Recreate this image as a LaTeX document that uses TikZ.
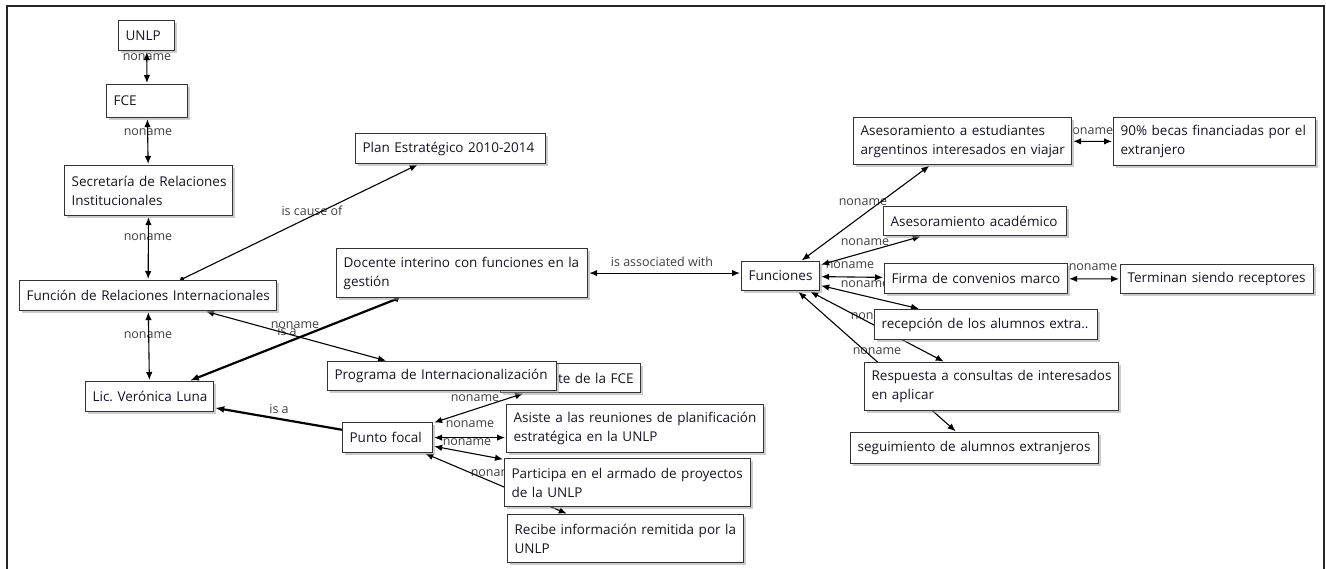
\documentclass[tikz,border=0pt]{standalone}
\usepackage{fontspec}
\setmainfont{Open Sans}
\usetikzlibrary{arrows.meta,shadows}
\pgfdeclarelayer{lab}
\pgfdeclarelayer{edges}
\pgfsetlayers{lab,edges,main}
\definecolor{boxline}{HTML}{333333}
\definecolor{txt}{HTML}{151525}
\definecolor{labgray}{HTML}{3E3E3E}
\tikzset{
  cbox/.style 2 args={draw=boxline, line width=1.2pt, fill=white, anchor=north west,
    inner xsep=7pt, inner ysep=0pt, text width=#1pt, minimum height=#2pt, align=left,
    font=\fontsize{13.5}{19}\selectfont, text=txt,
    drop shadow={shadow xshift=2.5pt, shadow yshift=-2.5pt, fill=black!40}},
  lab/.style={text=labgray, font=\fontsize{12.5}{14}\selectfont, inner sep=0pt},
  e/.style={draw=black, line width=1.1pt, {Latex[length=8pt,width=6.5pt]}-{Latex[length=8pt,width=6.5pt]}, shorten <=1pt, shorten >=1pt},
  edot/.style={draw=black, line width=1.1pt, {Circle[length=4.5pt]}-{Latex[length=8pt,width=6.5pt]}, shorten >=1pt},
  edotthick/.style={draw=black, line width=2.2pt, {Circle[length=5pt]}-{Latex[length=9pt,width=7pt]}, shorten >=1pt},
  ethick/.style={draw=black, line width=2.2pt, -{Latex[length=9pt,width=7pt]}, shorten >=1pt},
}
\begin{document}
\begin{tikzpicture}[x=1pt,y=-1pt]
\useasboundingbox (0,0) rectangle (1326,569);
\draw[line width=2pt, black!85] (7,569) -- (7,6) -- (1324,6) -- (1324,569);

% concept boxes
\node[cbox={42}{30}] (unlp) at (118,20) {UNLP};
\node[cbox={67}{33}] (fce) at (106,84) {FCE};
\node[cbox={154}{50}] (sec) at (64,165) {\mbox{Secretaría de Relaciones}\\\mbox{Institucionales}};
\node[cbox={243}{30}] (fri) at (19,280) {\mbox{Función de Relaciones Internacionales}};
\node[cbox={114}{30}] (lic) at (85,381) {\mbox{Lic.\ Verónica Luna}};
\node[cbox={176}{30}] (plan) at (355,133) {\mbox{Plan Estratégico 2010-2014}};
\node[cbox={237}{49}] (doc) at (336,248) {\mbox{Docente interino con funciones en la}\\\mbox{gestión}};
\node[cbox={126}{29}, align=right] (hid) at (500,363) {\mbox{te de la FCE}};
\node[cbox={215}{29}] (prog) at (327,361) {\mbox{Programa de Internacionalización}};
\node[cbox={76}{30}] (pf) at (342,422) {\mbox{Punto focal}};
\node[cbox={243}{48}] (asi) at (506,404) {\mbox{Asiste a las reuniones de planificación}\\\mbox{estratégica en la UNLP}};
\node[cbox={232}{48}] (par) at (504,458) {\mbox{Participa en el armado de proyectos}\\\mbox{de la UNLP}};
\node[cbox={222}{48}] (rec) at (507,514) {\mbox{Recibe información remitida por la}\\\mbox{UNLP}};
\node[cbox={64}{29}] (fun) at (741,261) {\mbox{Funciones}};
\node[cbox={204}{47}] (ase) at (853,117) {\mbox{Asesoramiento a estudiantes}\\\mbox{argentinos interesados en viajar}};
\node[cbox={188}{48}] (bec) at (1113,117) {\mbox{90\% becas financiadas por el}\\\mbox{extranjero}};
\node[cbox={169}{29}] (aca) at (883,206) {\mbox{Asesoramiento académico}};
\node[cbox={169}{30}] (fir) at (884,263) {\mbox{Firma de convenios marco}};
\node[cbox={179}{29}] (ter) at (1120,264) {\mbox{Terminan siendo receptores}};
\node[cbox={209}{30}] (recep) at (874,309) {\mbox{recepción de los alumnos extra..}};
\node[cbox={240}{48}] (res) at (864,362) {\mbox{Respuesta a consultas de interesados}\\\mbox{en aplicar}};
\node[cbox={234}{31}] (seg) at (850,432) {\mbox{seguimiento de alumnos extranjeros}};

% connectors
\begin{pgfonlayer}{edges}
\draw[e] (unlp) -- (fce);
\draw[e] (fce) -- (sec);
\draw[e] (sec) -- (fri);
\draw[e] (fri) -- (lic);
\draw[edot] (fri) -- (plan);
\draw[e] (fri) -- (prog);
\draw[edotthick] (doc) -- (lic);
\draw[e] (doc.east) -- (doc.east -| fun.west);
\draw[ethick] (pf) -- (lic);
\draw[e] (pf) -- (hid);
\draw[e] (pf.east) -- (pf.east -| asi.west);
\draw[e] (pf) -- (par);
\draw[e] (pf) -- (rec);
\draw[e] (fun) -- (ase);
\draw[e] (fun) -- (aca);
\draw[e] (fun) -- (fir);
\draw[e] (fun) -- (recep);
\draw[e] (fun) -- (res);
\draw[e] (fun) -- (seg);
\draw[e] (ase) -- (bec);
\draw[e] (fir) -- (ter);
\end{pgfonlayer}

% linking phrases
\begin{pgfonlayer}{lab}
\node[lab] (l1) at (147,57) {noname};
\node[lab] (l2) at (148,132) {noname};
\node[lab] (l3) at (148,237) {noname};
\node[lab] (l4) at (148,335) {noname};
\node[lab] (l5) at (312,211) {is cause of};
\node[lab] (l6) at (295,325) {noname};
\node[lab] (l7) at (287,331) {is a};
\node[lab] (l8) at (662,262) {is associated with};
\node[lab] (l9) at (279,409) {is a};
\node[lab] (l10) at (475,398) {noname};
\node[lab] (l11) at (470,424) {noname};
\node[lab] (l12) at (467,442) {noname};
\node[lab] (l13) at (495,473) {noname};
\node[lab] (l14) at (863,202) {noname};
\node[lab] (l15) at (865,242) {noname};
\node[lab] (l16) at (850,265) {noname};
\node[lab] (l17) at (865,284) {noname};
\node[lab] (l18) at (875,316) {noname};
\node[lab] (l19) at (877,351) {noname};
\node[lab] (l20) at (1089,131) {noname};
\node[lab] (l21) at (1093,267) {noname};
\end{pgfonlayer}
\end{tikzpicture}
\end{document}
